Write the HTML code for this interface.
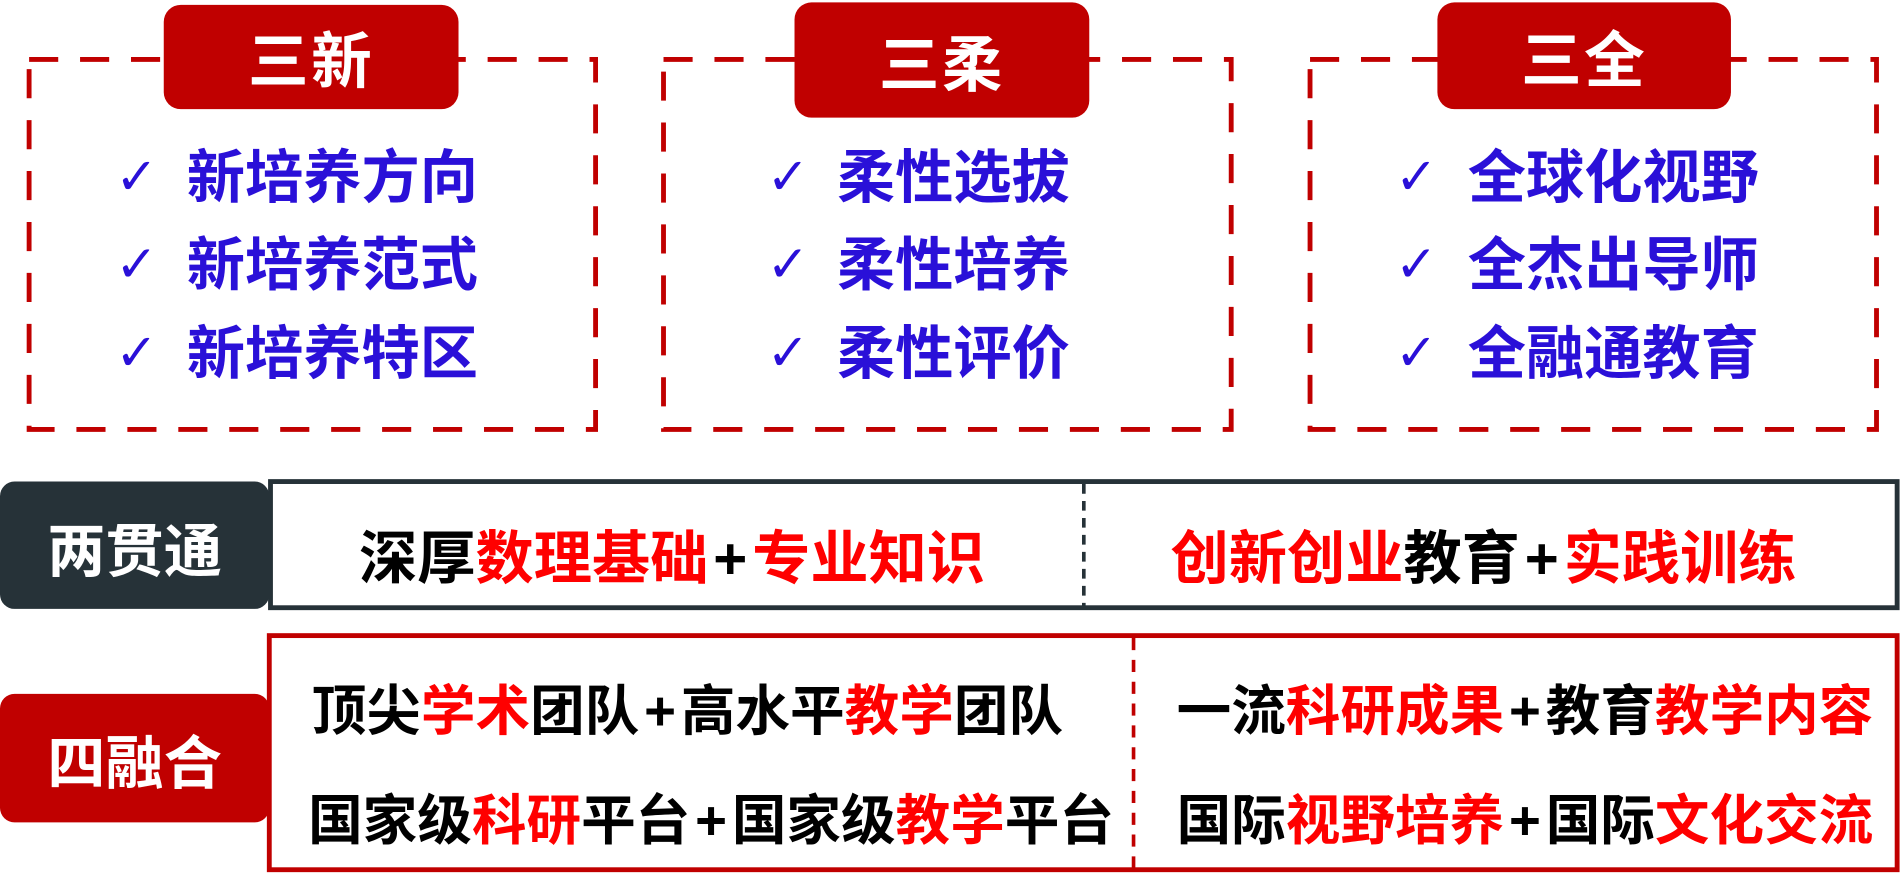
<!DOCTYPE html>
<html><head><meta charset="utf-8">
<style>
html,body{margin:0;padding:0;background:#fff;width:1902px;height:874px;overflow:hidden}
#w{position:absolute;left:0;top:0;width:1568px;height:720px;transform:scale(1.2130);transform-origin:0 0;font-family:"Liberation Sans","Noto Sans CJK SC",sans-serif;font-weight:bold}
.a{position:absolute;box-sizing:border-box}
.tab{background:#c00000;border-radius:14px;color:#fff;font-size:50px;display:flex;align-items:center;justify-content:center;letter-spacing:2px}
.item{position:absolute;color:#2a10d8;font-size:48px;white-space:nowrap;line-height:1}
.ck{position:absolute;color:#2a10d8;font-size:42px;line-height:1;font-family:"DejaVu Sans",sans-serif;font-weight:normal}
.t{position:absolute;font-size:45px;white-space:nowrap;line-height:1;color:#000}
.t2{font-size:48px}
.r{color:#ff0000}
.p{margin:0 4px}
</style></head><body><div id="w">
<svg class="a" style="left:0;top:0" width="1568" height="720">
<g fill="none" stroke="#c00000" stroke-width="4" stroke-dasharray="24 18">
<rect x="24" y="49" width="467" height="305"/>
<rect x="547" y="49" width="468" height="305"/>
<rect x="1080" y="49" width="467" height="305"/>
<line x1="934.5" y1="526" x2="934.5" y2="716" stroke-width="3" stroke-dasharray="10 8"/>
</g>
<line x1="893.5" y1="399" x2="893.5" y2="500" stroke="#263238" stroke-width="3" stroke-dasharray="8 6"/>
</svg>
<div class="a tab" style="left:135px;top:4px;width:243px;height:86px">三新</div>
<div class="a tab" style="left:655px;top:2px;width:243px;height:95px">三柔</div>
<div class="a tab" style="left:1185px;top:2px;width:242px;height:88px">三全</div>

<div class="ck" style="left:95px;top:125px">✓</div><div class="item" style="left:154px;top:124px">新培养方向</div>
<div class="ck" style="left:95px;top:197px">✓</div><div class="item" style="left:154px;top:196px">新培养范式</div>
<div class="ck" style="left:95px;top:270px">✓</div><div class="item" style="left:154px;top:269px">新培养特区</div>
<div class="ck" style="left:632px;top:125px">✓</div><div class="item" style="left:690px;top:124px">柔性选拔</div>
<div class="ck" style="left:632px;top:197px">✓</div><div class="item" style="left:690px;top:196px">柔性培养</div>
<div class="ck" style="left:632px;top:270px">✓</div><div class="item" style="left:690px;top:269px">柔性评价</div>
<div class="ck" style="left:1150px;top:125px">✓</div><div class="item" style="left:1210px;top:124px">全球化视野</div>
<div class="ck" style="left:1150px;top:197px">✓</div><div class="item" style="left:1210px;top:196px">全杰出导师</div>
<div class="ck" style="left:1150px;top:270px">✓</div><div class="item" style="left:1210px;top:269px">全融通教育</div>

<div class="a" style="left:0;top:397px;width:222px;height:105px;background:#263238;border-radius:12px;color:#fff;font-size:48px;display:flex;align-items:center;justify-content:center">两贯通</div>
<div class="a" style="left:221px;top:395px;width:1345px;height:108px;border:4px solid #263238"></div>
<div class="t t2" style="left:296px;top:438px">深厚<span class="r">数理基础</span><span class="p">+</span><span class="r">专业知识</span></div>
<div class="t t2" style="left:965px;top:438px"><span class="r">创新创业</span>教育<span class="p">+</span><span class="r">实践训练</span></div>

<div class="a" style="left:0;top:572px;width:222px;height:106px;background:#c00000;border-radius:12px;color:#fff;font-size:48px;display:flex;align-items:center;justify-content:center">四融合</div>
<div class="a" style="left:220px;top:522px;width:1346px;height:197px;border:4px solid #c00000"></div>
<div class="t" style="left:257px;top:564px">顶尖<span class="r">学术</span>团队<span class="p">+</span>高水平<span class="r">教学</span>团队</div>
<div class="t" style="left:254px;top:654px">国家级<span class="r">科研</span>平台<span class="p">+</span>国家级<span class="r">教学</span>平台</div>
<div class="t" style="left:970px;top:564px">一流<span class="r">科研成果</span><span class="p">+</span>教育<span class="r">教学内容</span></div>
<div class="t" style="left:970px;top:654px">国际<span class="r">视野培养</span><span class="p">+</span>国际<span class="r">文化交流</span></div>
</div></body></html>
